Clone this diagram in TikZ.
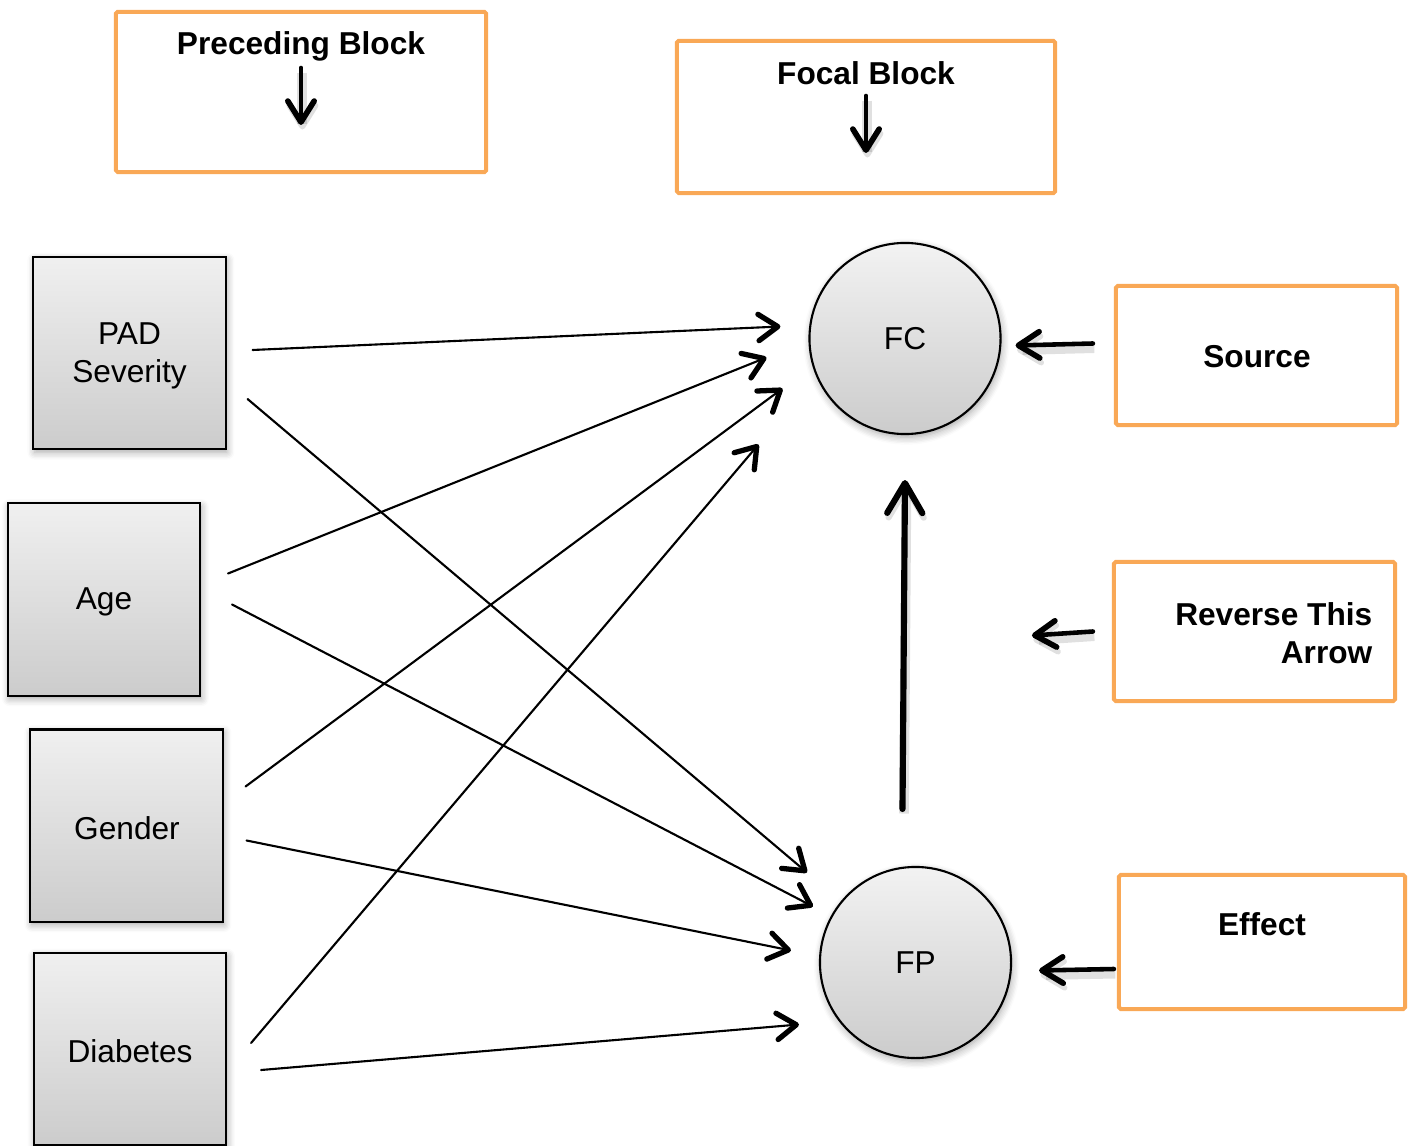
\documentclass[tikz,border=0pt]{standalone}
\usepackage{fontspec}
\setmainfont{Liberation Sans}
\usetikzlibrary{arrows.meta,calc,shadows.blur}
\definecolor{blockorange}{RGB}{249,168,86}
\tikzset{
  varbox/.style={draw=black, line width=0.6pt, minimum width=1.92cm, minimum height=1.92cm,
    top color=black!6, bottom color=black!20, outer sep=0pt, align=center, font=\fontsize{9}{10.6}\selectfont,
    blur shadow={shadow xshift=0.4pt, shadow yshift=-0.9pt, shadow blur steps=6, shadow opacity=35}},
  factor/.style={circle, draw=black, line width=0.6pt, minimum size=1.91cm, inner sep=0pt,
    top color=black!5, bottom color=black!20, outer sep=0pt, font=\fontsize{9}{10.6}\selectfont,
    blur shadow={shadow xshift=0.4pt, shadow yshift=-0.9pt, shadow blur steps=6, shadow opacity=35}},
  keybox/.style={draw=blockorange, line width=1.15pt, outer sep=0pt, rounded corners=0.5pt},
  keytext/.style={font=\bfseries\fontsize{9}{10.8}\selectfont, inner sep=0pt},
  path link/.style={line width=0.6pt, line cap=round,
    -{Straight Barb[length=5.5pt, width=7.5pt, line width=1.5pt, round]}},
  soft shadow/.style={preaction={draw=black, draw opacity=0.12, line width=2.8pt,
    transform canvas={shift={(0.4pt,-1.3pt)}}}},
  key arrow/.style={line width=1.3pt, line cap=round, soft shadow,
    -{Straight Barb[length=6pt, width=7.5pt, line width=1.6pt, round]}},
  main arrow/.style={line width=1.75pt, line cap=round, soft shadow,
    -{Straight Barb[length=8.5pt, width=10pt, line width=1.75pt, round]}},
}
\begin{document}
\begin{tikzpicture}[x=0.01cm, y=-0.01cm]
  \useasboundingbox (0,0) rectangle (1409,1146);

  % legend boxes
  \node[keybox, minimum width=3.70cm, minimum height=1.60cm] (pre) at (301,92) {};
  \node[keytext] (pretxt) at (301,46) {Preceding Block};
  \draw[key arrow] ($(pre.north)+(0,56)$) -- ($(pre.north)+(0,113)$);

  \node[keybox, minimum width=3.78cm, minimum height=1.52cm] (foc) at (866,117) {};
  \node[keytext] (foctxt) at (866,73) {Focal Block};
  \draw[key arrow] ($(foc.north)+(0,55)$) -- ($(foc.north)+(0,112)$);

  \node[keybox, minimum width=2.81cm, minimum height=1.39cm] (src) at (1256.5,355.5) {};
  \node[keytext] (srctxt) at (1257,357) {Source};

  \node[keybox, minimum width=2.81cm, minimum height=1.39cm] (rev) at (1254.5,631.5) {};
  \node[keytext, align=right, anchor=east] (revtxt) at (1373,633) {Reverse This\\Arrow};

  \node[keybox, minimum width=2.86cm, minimum height=1.34cm] (eff) at (1262,942) {};
  \node[keytext] (efftxt) at (1262,924) {Effect};

  % observed variables
  \node[varbox] (pad) at (129.5,353) {};
  \node[font=\fontsize{9}{10.6}\selectfont, align=center] (padtxt) at (129.5,356) {PAD\\Severity};
  \node[varbox] (age) at (104,599.5) {};
  \node[font=\fontsize{9}{10.6}\selectfont] (agetxt) at (104,602) {Age};
  \node[varbox] (gen) at (126.5,825.5) {};
  \node[font=\fontsize{9}{10.6}\selectfont] (gentxt) at (127,828) {Gender};
  \node[varbox] (dia) at (130,1049) {};
  \node[font=\fontsize{9}{10.6}\selectfont] (diatxt) at (130,1051) {Diabetes};

  % factors
  \node[factor] (fc) at (905,338.5) {FC};
  \node[factor] (fp) at (915.5,962.5) {FP};

  % paths into FC
  \draw[path link] ($(pad.east)+(27,-3)$) -- ($(fc.west)+(-29,-12)$);
  \draw[path link] ($(age.east)+(28,-26)$) -- ($(fc.west)+(-43,19)$);
  \draw[path link] ($(gen.east)+(23,-39)$) -- ($(fc.west)+(-27,50)$);
  \draw[path link] ($(dia.east)+(25,-6)$) -- ($(fc.west)+(-51,106)$);

  % paths into FP
  \draw[path link] ($(pad.east)+(22,46)$) -- ($(fp.west)+(-13,-90)$);
  \draw[path link] ($(age.east)+(32,5)$) -- ($(fp.west)+(-7,-56)$);
  \draw[path link] ($(gen.east)+(24,15)$) -- ($(fp.west)+(-29,-12)$);
  \draw[path link] ($(dia.east)+(35,21)$) -- ($(fp.west)+(-21,62)$);

  % FP -> FC
  \draw[main arrow] ($(fp.north)+(-13,-58)$) -- ($(fc.south)+(0,46)$);

  % pointers from legend boxes
  \coordinate (revtip) at ($(rev.west)+(-82,4)$);
  \draw[key arrow] ($(src.west)+(-23,-12)$) -- ($(fc.east)+(15,7)$);
  \draw[key arrow] ($(rev.west)+(-21,0)$) -- (revtip);
  \draw[key arrow] ($(eff.west)+(-5,27)$) -- ($(fp.east)+(28,8)$);
\end{tikzpicture}
\end{document}
